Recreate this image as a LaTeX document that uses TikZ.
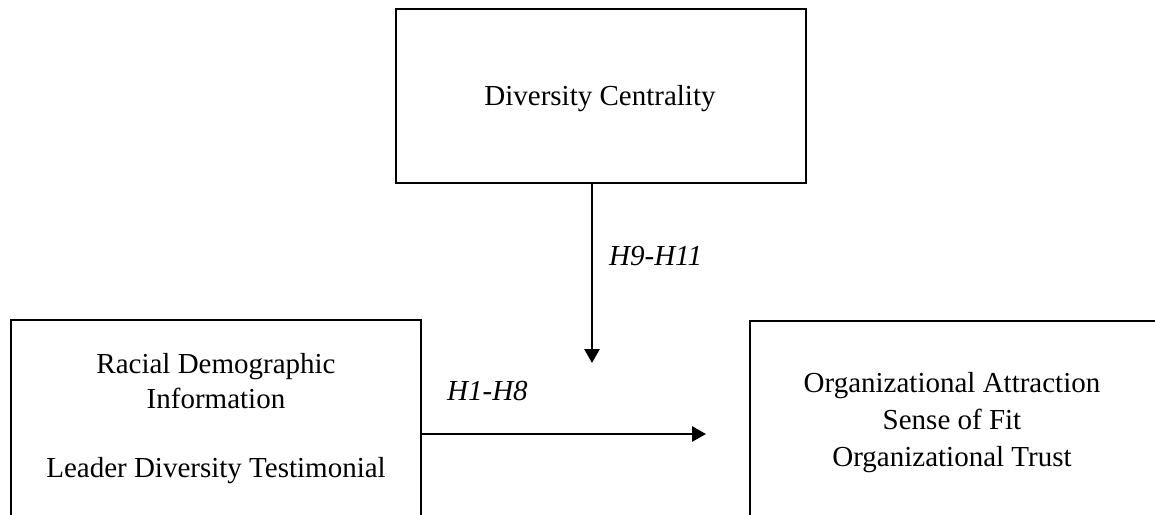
\documentclass[tikz,border=0pt]{standalone}
\usepackage{fontspec}
\setmainfont{Liberation Serif}
\usetikzlibrary{arrows.meta}
\begin{document}
\begin{tikzpicture}[x=1pt,y=-1pt,
  box/.style={draw=black,line width=2.8pt,rectangle,inner sep=0pt},
  txt/.style={anchor=base,inner sep=0pt,font=\fontsize{29}{35}\selectfont},
  lab/.style={anchor=base west,inner sep=0pt,font=\fontsize{29}{35}\selectfont\itshape},
  conn/.style={line width=2.8pt,-{Triangle[length=14pt,width=15pt]}}]
\useasboundingbox (0,0) rectangle (1155,514);
\clip (0,0) rectangle (1155,514);
% boxes
\node[box,minimum width=410pt,minimum height=174pt] (top) at (601,96) {};
\node[box,minimum width=410pt,minimum height=260pt] (left) at (216,450) {};
\node[box,minimum width=406pt,minimum height=260pt] (right) at (953,451) {};
% texts
\node[txt] (t1) at (600,105) {Diversity Centrality};
\node[txt] (l1) at (216,373) {Racial Demographic};
\node[txt] (l2) at (216,408) {Information};
\node[txt] (l3) at (216,477) {Leader Diversity Testimonial};
\node[txt] (r1) at (952,392) {Organizational Attraction};
\node[txt] (r2) at (952,429) {Sense of Fit};
\node[txt] (r3) at (952,466) {Organizational Trust};
% connectors
\coordinate (vtip) at (592,363);
\coordinate (htip) at (706,434);
\draw[conn] (top.south -| vtip) -- (vtip);
\draw[conn] (left.east |- htip) -- (htip);
% labels
\node[lab] (h911) at (609,265) {H9-H11};
\node[lab] (h18) at (447,400) {H1-H8};
\end{tikzpicture}
\end{document}
